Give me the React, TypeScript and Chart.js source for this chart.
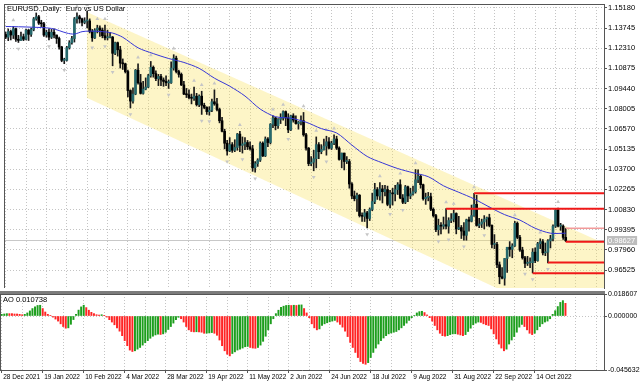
import React, { useEffect, useRef } from 'react';
import { Chart, registerables } from 'chart.js';
Chart.register(...registerables);

// ---------- data ----------
const dateTickBars = [0, 16, 32, 48, 64, 80, 96, 112, 128, 144, 160, 176, 192, 208];
const dateLabels = ['28 Dec 2021', '19 Jan 2022', '10 Feb 2022', '4 Mar 2022', '28 Mar 2022', '19 Apr 2022', '11 May 2022', '2 Jun 2022', '24 Jun 2022', '18 Jul 2022', '9 Aug 2022', '31 Aug 2022', '22 Sep 2022', '14 Oct 2022'];
const gridBars = [0, 8, 16, 24, 32, 40, 48, 56, 64, 72, 80, 88, 96, 104, 112, 120, 128, 136, 144, 152, 160, 168, 176, 184, 192, 200, 208, 216, 224, 232];

const priceTicks = [1.1518, 1.13745, 1.1231, 1.10875, 1.0944, 1.08005, 1.0657, 1.05135, 1.037, 1.02265, 1.0083, 0.99395, 0.9796, 0.96525];
const BID = 0.98627;
const aoTicks = [0.018607, 0, -0.045632];

const opens = [
  1.1329, 1.1310, 1.1350, 1.1325, 1.1370, 1.1295, 1.1287, 1.1313, 1.1295, 1.1360,
  1.1330, 1.1365, 1.1440, 1.1455, 1.1410, 1.1405, 1.1325, 1.1345, 1.1310, 1.1345,
  1.1325, 1.1300, 1.1240, 1.1145, 1.1145, 1.1235, 1.1270, 1.1300, 1.1440, 1.1455,
  1.1440, 1.1415, 1.1425, 1.1425, 1.1350, 1.1305, 1.1360, 1.1375, 1.1360, 1.1320,
  1.1305, 1.1310, 1.1310, 1.1195, 1.1270, 1.1220, 1.1125, 1.1120, 1.1065, 1.0930,
  1.0855, 1.0905, 1.1075, 1.0985, 1.0910, 1.0940, 1.0955, 1.1035, 1.1095, 1.1050,
  1.1015, 1.1030, 1.1005, 1.0995, 1.0985, 1.0985, 1.1090, 1.1160, 1.1065, 1.1045,
  1.0970, 1.0905, 1.0900, 1.0880, 1.0875, 1.0890, 1.0830, 1.0890, 1.0825, 1.0810,
  1.0780, 1.0790, 1.0850, 1.0835, 1.0795, 1.0715, 1.0640, 1.0555, 1.0500, 1.0545,
  1.0505, 1.0525, 1.0620, 1.0540, 1.0550, 1.0560, 1.0530, 1.0515, 1.0380, 1.0410,
  1.0435, 1.0555, 1.0465, 1.0585, 1.0560, 1.0690, 1.0735, 1.0680, 1.0725, 1.0735,
  1.0780, 1.0735, 1.0650, 1.0750, 1.0720, 1.0695, 1.0705, 1.0715, 1.0615, 1.0520,
  1.0410, 1.0420, 1.0445, 1.0545, 1.0495, 1.0510, 1.0535, 1.0565, 1.0520, 1.0555,
  1.0585, 1.0520, 1.0440, 1.0485, 1.0425, 1.0425, 1.0265, 1.0180, 1.0160, 1.0185,
  1.0040, 1.0035, 1.0060, 1.0020, 1.0085, 1.0140, 1.0225, 1.0180, 1.0230, 1.0210,
  1.0225, 1.0120, 1.0200, 1.0195, 1.0225, 1.0260, 1.0165, 1.0135, 1.0245, 1.0180,
  1.0195, 1.0210, 1.0295, 1.0320, 1.0260, 1.0160, 1.0170, 1.0175, 1.0085, 1.0040,
  0.9940, 0.9970, 0.9965, 0.9975, 0.9965, 1.0005, 1.0015, 1.0055, 0.9945, 0.9955,
  0.9930, 0.9900, 1.0010, 1.0000, 1.0040, 1.0120, 0.9970, 0.9980, 0.9995, 1.0015,
  1.0025, 0.9970, 0.9835, 0.9835, 0.9690, 0.9605, 0.9595, 0.9735, 0.9815, 0.9800,
  0.9825, 0.9985, 0.9885, 0.9795, 0.9740, 0.9700, 0.9705, 0.9705, 0.9780, 0.9720,
  0.9840, 0.9855, 0.9775, 0.9780, 0.9860, 0.9875, 0.9965, 1.0080, 0.9965, 0.9965,
  0.9885,
];
const highs = [
  1.1346, 1.1369, 1.1360, 1.1385, 1.1375, 1.1323, 1.1346, 1.1332, 1.1365, 1.1365,
  1.1375, 1.1450, 1.1482, 1.1465, 1.1430, 1.1415, 1.1360, 1.1370, 1.1365, 1.1370,
  1.1325, 1.1310, 1.1245, 1.1160, 1.1245, 1.1285, 1.1315, 1.1450, 1.1483, 1.1466,
  1.1445, 1.1448, 1.1495, 1.1440, 1.1365, 1.1370, 1.1395, 1.1390, 1.1375, 1.1395,
  1.1360, 1.1345, 1.1315, 1.1275, 1.1275, 1.1245, 1.1155, 1.1125, 1.1075, 1.0935,
  1.0950, 1.1080, 1.1120, 1.1045, 1.0995, 1.1020, 1.1045, 1.1137, 1.1105, 1.1070,
  1.1045, 1.1045, 1.1020, 1.1035, 1.1005, 1.1135, 1.1185, 1.1175, 1.1075, 1.1055,
  1.0995, 1.0945, 1.0935, 1.0905, 1.0955, 1.0910, 1.0900, 1.0925, 1.0840, 1.0815,
  1.0815, 1.0870, 1.0935, 1.0875, 1.0805, 1.0740, 1.0655, 1.0575, 1.0595, 1.0560,
  1.0580, 1.0625, 1.0640, 1.0600, 1.0595, 1.0575, 1.0565, 1.0540, 1.0425, 1.0445,
  1.0565, 1.0565, 1.0600, 1.0595, 1.0695, 1.0750, 1.0740, 1.0730, 1.0765, 1.0785,
  1.0785, 1.0765, 1.0755, 1.0765, 1.0750, 1.0710, 1.0750, 1.0774, 1.0625, 1.0525,
  1.0460, 1.0505, 1.0600, 1.0560, 1.0545, 1.0585, 1.0605, 1.0595, 1.0570, 1.0615,
  1.0605, 1.0530, 1.0485, 1.0485, 1.0460, 1.0440, 1.0275, 1.0215, 1.0200, 1.0190,
  1.0060, 1.0085, 1.0070, 1.0095, 1.0200, 1.0270, 1.0240, 1.0275, 1.0255, 1.0255,
  1.0250, 1.0220, 1.0235, 1.0255, 1.0275, 1.0295, 1.0190, 1.0255, 1.0250, 1.0235,
  1.0250, 1.0368, 1.0365, 1.0330, 1.0265, 1.0200, 1.0205, 1.0200, 1.0095, 1.0050,
  1.0015, 0.9990, 1.0030, 1.0090, 1.0025, 1.0055, 1.0080, 1.0060, 1.0035, 0.9970,
  0.9990, 1.0015, 1.0030, 1.0115, 1.0198, 1.0185, 1.0020, 1.0015, 1.0040, 1.0030,
  1.0050, 0.9975, 0.9905, 0.9850, 0.9710, 0.9670, 0.9735, 0.9815, 0.9855, 0.9840,
  0.9999, 0.9995, 0.9900, 0.9815, 0.9750, 0.9750, 0.9740, 0.9805, 0.9810, 0.9850,
  0.9875, 0.9870, 0.9845, 0.9870, 0.9900, 0.9975, 1.0090, 1.0093, 0.9985, 0.9975,
  0.9950,
];
const lows = [
  1.1299, 1.1285, 1.1290, 1.1300, 1.1280, 1.1272, 1.1286, 1.1285, 1.1290, 1.1286,
  1.1315, 1.1355, 1.1430, 1.1400, 1.1385, 1.1315, 1.1310, 1.1290, 1.1300, 1.1305,
  1.1265, 1.1225, 1.1135, 1.1121, 1.1140, 1.1225, 1.1260, 1.1275, 1.1410, 1.1410,
  1.1390, 1.1405, 1.1375, 1.1340, 1.1280, 1.1300, 1.1340, 1.1315, 1.1305, 1.1290,
  1.1290, 1.1305, 1.1106, 1.1185, 1.1175, 1.1090, 1.1080, 1.1055, 1.0885, 1.0806,
  1.0840, 1.0900, 1.0975, 1.0905, 1.0905, 1.0935, 1.0950, 1.1025, 1.1025, 1.1000,
  1.0965, 1.0965, 1.0960, 1.0965, 1.0945, 1.0980, 1.1075, 1.1055, 1.1025, 1.0965,
  1.0900, 1.0880, 1.0870, 1.0835, 1.0860, 1.0820, 1.0815, 1.0760, 1.0800, 1.0760,
  1.0755, 1.0780, 1.0825, 1.0785, 1.0700, 1.0635, 1.0515, 1.0470, 1.0495, 1.0490,
  1.0495, 1.0505, 1.0495, 1.0485, 1.0510, 1.0510, 1.0505, 1.0355, 1.0349, 1.0390,
  1.0425, 1.0460, 1.0460, 1.0530, 1.0550, 1.0665, 1.0650, 1.0660, 1.0695, 1.0720,
  1.0680, 1.0630, 1.0645, 1.0705, 1.0690, 1.0655, 1.0685, 1.0605, 1.0505, 1.0395,
  1.0395, 1.0359, 1.0380, 1.0445, 1.0480, 1.0505, 1.0470, 1.0515, 1.0510, 1.0545,
  1.0510, 1.0435, 1.0380, 1.0365, 1.0410, 1.0235, 1.0160, 1.0145, 1.0070, 1.0030,
  0.9999, 0.9998, 0.9952, 1.0005, 1.0075, 1.0125, 1.0155, 1.0150, 1.0130, 1.0180,
  1.0110, 1.0095, 1.0115, 1.0145, 1.0190, 1.0160, 1.0125, 1.0125, 1.0140, 1.0160,
  1.0185, 1.0200, 1.0275, 1.0235, 1.0150, 1.0120, 1.0145, 1.0075, 1.0030, 0.9925,
  0.9901, 0.9910, 0.9945, 0.9945, 0.9915, 0.9990, 0.9995, 0.9910, 0.9940, 0.9877,
  0.9865, 0.9865, 0.9930, 0.9995, 1.0035, 0.9965, 0.9955, 0.9955, 0.9945, 0.9965,
  0.9960, 0.9810, 0.9805, 0.9670, 0.9555, 0.9590, 0.9545, 0.9635, 0.9750, 0.9740,
  0.9820, 0.9875, 0.9785, 0.9730, 0.9670, 0.9685, 0.9670, 0.9632, 0.9705, 0.9715,
  0.9805, 0.9760, 0.9755, 0.9704, 0.9810, 0.9860, 0.9955, 0.9960, 0.9935, 0.9870,
  0.9855,
];
const closes = [
  1.1310, 1.1350, 1.1325, 1.1370, 1.1295, 1.1287, 1.1313, 1.1295, 1.1360, 1.1330,
  1.1365, 1.1440, 1.1455, 1.1410, 1.1405, 1.1325, 1.1345, 1.1310, 1.1345, 1.1325,
  1.1300, 1.1240, 1.1145, 1.1145, 1.1235, 1.1270, 1.1300, 1.1440, 1.1455, 1.1440,
  1.1415, 1.1425, 1.1425, 1.1350, 1.1305, 1.1360, 1.1375, 1.1360, 1.1320, 1.1305,
  1.1310, 1.1310, 1.1195, 1.1270, 1.1220, 1.1125, 1.1120, 1.1065, 1.0930, 1.0855,
  1.0905, 1.1075, 1.0985, 1.0910, 1.0940, 1.0955, 1.1035, 1.1095, 1.1050, 1.1015,
  1.1030, 1.1005, 1.0995, 1.0985, 1.0985, 1.1090, 1.1160, 1.1065, 1.1045, 1.0970,
  1.0905, 1.0900, 1.0880, 1.0875, 1.0890, 1.0830, 1.0890, 1.0825, 1.0810, 1.0780,
  1.0790, 1.0850, 1.0835, 1.0795, 1.0715, 1.0640, 1.0555, 1.0500, 1.0545, 1.0505,
  1.0525, 1.0620, 1.0540, 1.0550, 1.0560, 1.0530, 1.0515, 1.0380, 1.0410, 1.0435,
  1.0555, 1.0465, 1.0585, 1.0560, 1.0690, 1.0735, 1.0680, 1.0725, 1.0735, 1.0780,
  1.0735, 1.0650, 1.0750, 1.0720, 1.0695, 1.0705, 1.0715, 1.0615, 1.0520, 1.0410,
  1.0420, 1.0445, 1.0545, 1.0495, 1.0510, 1.0535, 1.0565, 1.0520, 1.0555, 1.0585,
  1.0520, 1.0440, 1.0485, 1.0425, 1.0425, 1.0265, 1.0180, 1.0160, 1.0185, 1.0040,
  1.0035, 1.0060, 1.0020, 1.0085, 1.0140, 1.0225, 1.0180, 1.0230, 1.0210, 1.0225,
  1.0120, 1.0200, 1.0195, 1.0225, 1.0260, 1.0165, 1.0135, 1.0245, 1.0180, 1.0195,
  1.0210, 1.0295, 1.0320, 1.0260, 1.0160, 1.0170, 1.0175, 1.0085, 1.0040, 0.9940,
  0.9970, 0.9965, 0.9975, 0.9965, 1.0005, 1.0015, 1.0055, 0.9945, 0.9955, 0.9930,
  0.9900, 1.0010, 1.0000, 1.0040, 1.0120, 0.9970, 0.9980, 0.9995, 1.0015, 1.0025,
  0.9970, 0.9835, 0.9835, 0.9690, 0.9605, 0.9595, 0.9735, 0.9815, 0.9800, 0.9825,
  0.9985, 0.9885, 0.9795, 0.9740, 0.9700, 0.9705, 0.9705, 0.9780, 0.9720, 0.9840,
  0.9855, 0.9775, 0.9780, 0.9860, 0.9875, 0.9965, 1.0080, 0.9965, 0.9965, 0.9885,
  0.98627,
];

// moving average (bar index, price)
const maBars = [0, 10, 18, 24, 27, 30, 33, 38, 42, 46, 52, 58, 64, 70, 76, 82, 88, 94, 100, 106, 112, 118, 124, 130, 136, 142, 148, 154, 160, 166, 172, 178, 184, 190, 196, 202, 208, 214, 220];
const maValues = [1.1386, 1.1381, 1.1372, 1.1339, 1.1332, 1.1349, 1.1353, 1.1349, 1.1339, 1.1309, 1.1234, 1.1193, 1.1158, 1.1130, 1.1088, 1.1018, 1.0961, 1.0891, 1.0798, 1.0744, 1.0733, 1.0705, 1.0659, 1.0628, 1.0542, 1.0461, 1.0415, 1.0375, 1.0345, 1.0317, 1.0252, 1.0206, 1.0159, 1.0101, 1.0047, 1.0008, 0.9950, 0.9915, 0.9915];

// AO histogram values (x 0.001)
const aoValues = [
  1.4, 1.7, 2.0, 2.0, 2.0, 1.7, 1.7, 1.4, 1.1, 1.4,
  2.6, 4.3, 6.3, 7.7, 8.9, 9.1, 6.3, 3.4, 1.4, 0.3,
  -0.9, -2.6, -4.3, -6.6, -8.9, -10.3, -10.0, -7.0, -3.0, 1.5,
  5.0, 7.7, 9.1, 7.1, 4.9, 3.1, 2.0, 1.1, 0.8, 1.1,
  0.6, -0.9, -3.1, -5.1, -7.4, -10.0, -12.8, -16.6, -20.8, -25.1,
  -28.8, -30.0, -29.4, -28.0, -26.6, -24.6, -22.6, -20.8, -18.8, -17.1,
  -16.0, -15.4, -15.6, -15.1, -13.7, -11.4, -8.9, -6.0, -3.1, -1.1,
  -2.3, -5.1, -8.9, -11.7, -13.1, -13.4, -13.3, -13.5, -13.7, -14.6,
  -14.5, -14.3, -14.0, -14.6, -16.3, -20.3, -25.1, -29.4, -32.3, -33.7,
  -31.7, -30.3, -28.8, -28.0, -27.1, -26.0, -25.7, -26.6, -27.1, -27.3,
  -26.6, -24.6, -21.4, -17.1, -11.7, -6.6, -2.3, 2.0, 4.9, 7.4,
  8.3, 8.9, 9.1, 8.9, 9.1, 8.9, 9.3, 9.4, 6.3, 2.6,
  -1.4, -6.6, -10.0, -11.7, -10.9, -8.0, -6.6, -5.7, -4.9, -4.3,
  -3.7, -5.1, -7.1, -9.4, -12.8, -17.4, -22.3, -26.6, -30.8, -35.1,
  -38.5, -40.0, -40.8, -39.4, -35.1, -30.8, -27.1, -23.7, -20.8, -18.6,
  -16.6, -15.1, -14.3, -13.7, -13.1, -11.7, -10.0, -8.0, -6.0, -3.7,
  -1.4, 0.3, 2.6, 3.7, 4.0, 2.9, 0.9, -1.4, -4.3, -8.0,
  -11.7, -14.6, -16.6, -17.1, -16.6, -15.7, -15.1, -15.0, -15.4, -16.0,
  -16.6, -15.7, -13.1, -10.3, -7.4, -6.0, -5.1, -5.4, -6.6, -7.4,
  -8.0, -10.9, -15.1, -19.4, -23.7, -27.1, -29.4, -28.0, -23.7, -20.3,
  -17.4, -13.7, -9.4, -7.1, -8.9, -11.7, -14.6, -15.7, -14.6, -11.7,
  -8.9, -6.6, -5.1, -4.3, -2.3, 1.4, 4.5, 8.0, 11.5, 13.0,
  10.738,
];

// channel (bar index, price) and horizontal levels
const channelBars = [31.84, 235.04];
const channelTop = [1.1488, 0.9844];
const channelBottom = [1.0879, 0.9170];
const levelPrices = [1.0200, 1.0089, 0.9950, 0.98545, 0.9706, 0.9630];
const levelStartBars = [184, 173, 220, 220, 213, 207];
const levelColors = ['#f01818', '#f01818', '#f29a9a', '#f01818', '#f01818', '#f01818'];

// ---------- styling ----------
const FONT = '"Liberation Sans", Arial, sans-serif';
const GRID = '#c4c4c4';
const AXIS = '#555555';
const X_MIN = -0.6634;
const X_MAX = 235.04;
const Y_MIN = 0.95249;
const Y_MAX = 1.15458;
const FRACTAL_OFFSET = 0.0045;

const zeroPad = (s: any) => {
  s.paddingLeft = 0; s.paddingRight = 0; s.paddingTop = 0; s.paddingBottom = 0;
};

function textPlugin(id: string, text: string, dx: number, dy: number) {
  return {
    id,
    afterDraw(chart: any) {
      const { ctx, chartArea } = chart;
      ctx.save();
      ctx.font = `7.5px ${FONT}`;
      ctx.fillStyle = '#000';
      ctx.textBaseline = 'middle';
      ctx.textAlign = 'left';
      ctx.fillText(text, chartArea.left + dx, chartArea.top + dy);
      ctx.restore();
    },
  };
}

const framePlugin = {
  id: 'frame',
  afterDraw(chart: any) {
    const { ctx, chartArea } = chart;
    ctx.save();
    ctx.strokeStyle = AXIS;
    ctx.lineWidth = 1;
    ctx.beginPath();
    ctx.moveTo(chartArea.left + 0.5, chartArea.top);
    ctx.lineTo(chartArea.left + 0.5, chartArea.bottom);
    ctx.moveTo(chartArea.left, chartArea.top + 0.5);
    ctx.lineTo(chartArea.right, chartArea.top + 0.5);
    ctx.stroke();
    ctx.restore();
  },
};

export default function App() {
  const mainRef = useRef<HTMLCanvasElement>(null);
  const aoRef = useRef<HTMLCanvasElement>(null);

  useEffect(() => {
    document.body.style.margin = '0';
    const n = closes.length;
    const wicks = closes.map((_, i) => ({ x: i, y: [lows[i], highs[i]] }));
    const bodies = closes.map((c, i) => ({ x: i, y: [opens[i], c] }));
    const bodyColors = closes.map((c, i) => (c >= opens[i] ? '#26696d' : '#000000'));
    const ma = maBars.map((b, i) => ({ x: b, y: maValues[i] }));

    const upFr: any[] = [];
    const dnFr: any[] = [];
    for (let i = 2; i < n - 2; i++) {
      if (highs[i] > highs[i - 1] && highs[i] > highs[i - 2] && highs[i] >= highs[i + 1] && highs[i] >= highs[i + 2]) {
        upFr.push({ x: i, y: highs[i] + FRACTAL_OFFSET });
      }
      if (lows[i] < lows[i - 1] && lows[i] < lows[i - 2] && lows[i] <= lows[i + 1] && lows[i] <= lows[i + 2]) {
        dnFr.push({ x: i, y: lows[i] - FRACTAL_OFFSET });
      }
    }

    const levelSets = levelPrices.map((p, k) => ({
      type: 'line',
      data: [{ x: levelStartBars[k], y: p }, { x: X_MAX, y: p }],
      borderColor: levelColors[k],
      borderWidth: k === 2 ? 1.5 : 2,
      pointRadius: 0,
      fill: false,
      order: 1,
    }));

    const isBid = (c: any) => c && c.tick && Math.abs(c.tick.value - BID) < 1e-7;

    const main = new Chart(mainRef.current as HTMLCanvasElement, {
      type: 'bar',
      data: {
        datasets: [
          {
            type: 'line',
            data: channelBars.map((b, i) => ({ x: b, y: channelTop[i] })),
            borderWidth: 0,
            borderColor: 'transparent',
            pointRadius: 0,
            fill: '+1',
            backgroundColor: 'rgba(250, 226, 100, 0.36)',
            order: 20,
          },
          {
            type: 'line',
            data: channelBars.map((b, i) => ({ x: b, y: channelBottom[i] })),
            borderWidth: 0,
            borderColor: 'transparent',
            pointRadius: 0,
            fill: false,
            order: 20,
          },
          {
            type: 'scatter',
            data: upFr,
            pointStyle: 'triangle',
            pointRadius: 2.2,
            backgroundColor: '#c6c6c6',
            borderColor: '#c6c6c6',
            borderWidth: 0,
            order: 15,
          },
          {
            type: 'scatter',
            data: dnFr,
            pointStyle: 'triangle',
            rotation: 180,
            pointRadius: 2.2,
            backgroundColor: '#c6c6c6',
            borderColor: '#c6c6c6',
            borderWidth: 0,
            order: 15,
          },
          {
            type: 'bar',
            data: wicks,
            backgroundColor: '#1a1a1a',
            barThickness: 1,
            grouped: false,
            order: 6,
          },
          {
            type: 'bar',
            data: bodies,
            backgroundColor: bodyColors,
            barThickness: 2,
            minBarLength: 1,
            grouped: false,
            order: 5,
          },
          {
            type: 'line',
            data: ma,
            borderColor: '#3636d6',
            borderWidth: 1,
            pointRadius: 0,
            fill: false,
            tension: 0.3,
            order: 3,
          },
          ...levelSets,
        ] as any,
      },
      options: {
        responsive: false,
        animation: false,
        events: [],
        layout: { padding: { top: 1, bottom: 1, left: 0, right: 0 } },
        plugins: { legend: { display: false }, tooltip: { enabled: false } },
        scales: {
          x: {
            type: 'linear',
            min: X_MIN,
            max: X_MAX,
            offset: false,
            grid: { offset: false, color: GRID, lineWidth: 1, drawTicks: false },
            border: { display: false, dash: [1, 2] },
            ticks: { display: false },
            afterBuildTicks: (s: any) => { s.ticks = gridBars.map((v) => ({ value: v })); },
            afterFit: (s: any) => { s.height = 0; zeroPad(s); },
          },
          y: {
            type: 'linear',
            position: 'right',
            min: Y_MIN,
            max: Y_MAX,
            bounds: 'data',
            beginAtZero: false,
            afterBuildTicks: (s: any) => {
              s.ticks = [...priceTicks, BID].sort((a, b) => b - a).map((v) => ({ value: v }));
            },
            afterFit: (s: any) => { s.width = 36; zeroPad(s); },
            ticks: {
              autoSkip: false,
              padding: 1,
              font: { family: FONT, size: 7.5 },
              color: (c: any) => (isBid(c) ? '#ffffff' : '#000000'),
              showLabelBackdrop: (c: any) => isBid(c),
              backdropColor: '#bdbdbd',
              backdropPadding: { top: 0, bottom: 0, left: 1, right: 2 },
              callback: (v: any) => Number(v).toFixed(5),
            },
            grid: {
              color: (c: any) => (isBid(c) ? '#c8c8c8' : GRID),
              lineWidth: 1,
              drawTicks: true,
              tickLength: 3,
              tickColor: (c: any) => (isBid(c) ? 'transparent' : AXIS),
            },
            border: { display: true, color: AXIS, width: 1, dash: (c: any) => (isBid(c) ? [] : [1, 2]) },
          },
        } as any,
      },
      plugins: [framePlugin, textPlugin('title', 'EURUSD.,Daily:  Euro vs US Dollar', 3, 5)],
    } as any);

    const aoData = aoValues.map((v, i) => ({ x: i, y: v / 1000 }));
    const aoColors = aoValues.map((v, i) => (i === 0 || v > aoValues[i - 1] ? '#1d9e1d' : '#ff2424'));
    const isLabelTick = (v: number) => dateTickBars.indexOf(v) >= 0;

    const ao = new Chart(aoRef.current as HTMLCanvasElement, {
      type: 'bar',
      data: {
        datasets: [
          {
            data: aoData,
            backgroundColor: aoColors,
            barThickness: 1.3,
            grouped: false,
          },
        ],
      },
      options: {
        responsive: false,
        animation: false,
        events: [],
        layout: { padding: { top: 8, bottom: 0, left: 0, right: 0 } },
        plugins: { legend: { display: false }, tooltip: { enabled: false } },
        scales: {
          x: {
            type: 'linear',
            min: X_MIN,
            max: X_MAX,
            offset: false,
            grid: {
              offset: false,
              color: GRID,
              lineWidth: 1,
              drawTicks: true,
              tickLength: 3,
              tickColor: (c: any) => (c.tick && isLabelTick(c.tick.value) ? AXIS : 'transparent'),
            },
            border: { display: true, color: AXIS, width: 1, dash: [1, 2] },
            ticks: {
              autoSkip: false,
              maxRotation: 0,
              minRotation: 0,
              align: 'start',
              padding: 0,
              labelOffset: 1.5,
              font: { family: FONT, size: 6.5 },
              color: '#000',
              callback: (v: any) => {
                const k = dateTickBars.indexOf(Number(v));
                return k >= 0 ? dateLabels[k] : '';
              },
            },
            afterBuildTicks: (s: any) => { s.ticks = gridBars.map((v) => ({ value: v })); },
            afterFit: (s: any) => { s.height = 14; zeroPad(s); },
          },
          y: {
            type: 'linear',
            position: 'right',
            min: aoTicks[2],
            max: aoTicks[0],
            bounds: 'data',
            beginAtZero: false,
            afterBuildTicks: (s: any) => { s.ticks = aoTicks.map((v) => ({ value: v })); },
            afterFit: (s: any) => { s.width = 36; zeroPad(s); },
            ticks: {
              autoSkip: false,
              padding: 1,
              font: { family: FONT, size: 7 },
              color: '#000',
              callback: (v: any) => Number(v).toFixed(6),
            },
            grid: {
              color: (c: any) => (c.tick && c.tick.value === 0 ? GRID : 'transparent'),
              lineWidth: 1,
              drawTicks: true,
              tickLength: 3,
              tickColor: AXIS,
            },
            border: { display: true, color: AXIS, width: 1, dash: [1, 2] },
          },
        } as any,
      },
      plugins: [framePlugin, textPlugin('aoTitle', 'AO 0.010738', 3, 6)],
    } as any);

    return () => {
      main.destroy();
      ao.destroy();
    };
  }, []);

  return (
    <div style={{ position: 'relative', width: 640, height: 384, background: '#ffffff', overflow: 'hidden' }}>
      <canvas ref={mainRef} width={640} height={292} style={{ position: 'absolute', left: 0, top: 0 }} />
      <canvas ref={aoRef} width={640} height={98} style={{ position: 'absolute', left: 0, top: 286 }} />
      <div style={{ position: 'absolute', left: 0, top: 291, width: 605, height: 3, background: '#7c7c7c' }} />
    </div>
  );
}
